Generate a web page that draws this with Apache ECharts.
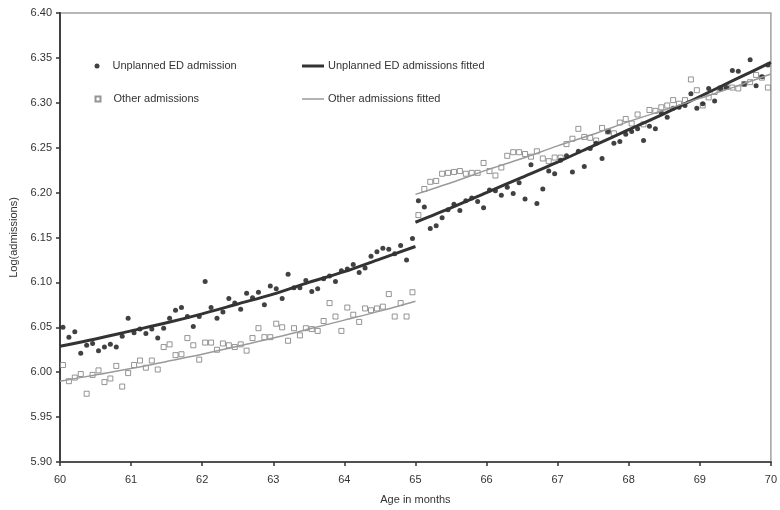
<!DOCTYPE html>
<html>
<head>
<meta charset="utf-8">
<script src="https://cdn.jsdelivr.net/npm/echarts@6/dist/echarts.min.js"></script>
<style>
  html, body { margin: 0; padding: 0; background: #fff; }
  #chart { width: 780px; height: 510px; }
</style>
</head>
<body>
<div id="chart"></div>
<script>
// Axis ticks
const xTicks = [60, 61, 62, 63, 64, 65, 66, 67, 68, 69, 70];
const yTicks = [5.90, 5.95, 6.00, 6.05, 6.10, 6.15, 6.20, 6.25, 6.30, 6.35, 6.40];

// Observations: 12 per month, centred in each twelfth of a month
const POINTS_PER_MONTH = 12;

// Log(admissions), unplanned ED admissions, ages 60 to 70 months
const unplannedED = [
  6.050, 6.039, 6.045, 6.021, 6.030, 6.032, 6.024, 6.028, 6.031, 6.028, 6.040, 6.060,
  6.044, 6.048, 6.043, 6.048, 6.038, 6.049, 6.060, 6.069, 6.072, 6.062, 6.051, 6.062,
  6.101, 6.072, 6.060, 6.067, 6.082, 6.077, 6.070, 6.088, 6.083, 6.089, 6.075, 6.096,
  6.093, 6.082, 6.109, 6.094, 6.094, 6.102, 6.090, 6.093, 6.104, 6.107, 6.101, 6.113,
  6.115, 6.120, 6.111, 6.116, 6.129, 6.134, 6.138, 6.137, 6.132, 6.141, 6.125, 6.149,
  6.191, 6.184, 6.160, 6.163, 6.172, 6.181, 6.187, 6.180, 6.191, 6.194, 6.190, 6.183,
  6.203, 6.202, 6.197, 6.206, 6.199, 6.211, 6.193, 6.231, 6.188, 6.204, 6.224, 6.221,
  6.236, 6.241, 6.223, 6.246, 6.229, 6.249, 6.255, 6.238, 6.268, 6.255, 6.257, 6.265,
  6.268, 6.271, 6.258, 6.274, 6.271, 6.289, 6.284, 6.294, 6.295, 6.297, 6.310, 6.294,
  6.299, 6.316, 6.302, 6.316, 6.317, 6.336, 6.335, 6.321, 6.348, 6.319, 6.329, 6.342
];

// Log(admissions), other admissions
const otherAdm = [
  6.008, 5.990, 5.994, 5.998, 5.976, 5.997, 6.002, 5.989, 5.993, 6.007, 5.984, 5.999,
  6.008, 6.013, 6.005, 6.013, 6.003, 6.028, 6.031, 6.019, 6.020, 6.038, 6.030, 6.014,
  6.033, 6.033, 6.025, 6.032, 6.030, 6.028, 6.031, 6.024, 6.038, 6.049, 6.039, 6.039,
  6.054, 6.050, 6.035, 6.049, 6.041, 6.049, 6.048, 6.046, 6.057, 6.077, 6.062, 6.046,
  6.072, 6.064, 6.056, 6.071, 6.069, 6.071, 6.073, 6.087, 6.062, 6.077, 6.062, 6.089,
  6.175, 6.204, 6.212, 6.213, 6.221, 6.222, 6.223, 6.224, 6.221, 6.222, 6.222, 6.233,
  6.224, 6.219, 6.228, 6.241, 6.245, 6.245, 6.243, 6.240, 6.246, 6.238, 6.235, 6.239,
  6.239, 6.254, 6.260, 6.271, 6.262, 6.261, 6.258, 6.272, 6.268, 6.266, 6.278, 6.282,
  6.277, 6.287, 6.276, 6.292, 6.291, 6.295, 6.297, 6.303, 6.299, 6.303, 6.326, 6.314,
  6.297, 6.306, 6.312, 6.316, 6.318, 6.317, 6.316, 6.321, 6.323, 6.331, 6.328, 6.317
];

// Fitted curves, sampled every half month on each side of 65 months
const fitAgesBefore = [60, 60.5, 61, 61.5, 62, 62.5, 63, 63.5, 64, 64.5, 65];
const fitAgesAfter  = [65, 65.5, 66, 66.5, 67, 67.5, 68, 68.5, 69, 69.5, 70];
const unplannedFitBefore = [6.029, 6.037, 6.046, 6.055, 6.065, 6.076, 6.087, 6.100, 6.112, 6.126, 6.140];
const unplannedFitAfter  = [6.167, 6.183, 6.200, 6.217, 6.234, 6.252, 6.270, 6.288, 6.307, 6.326, 6.345];
const otherFitBefore     = [5.990, 5.997, 6.004, 6.012, 6.020, 6.029, 6.038, 6.048, 6.058, 6.068, 6.079];
const otherFitAfter      = [6.198, 6.211, 6.225, 6.238, 6.252, 6.265, 6.279, 6.292, 6.305, 6.318, 6.332];

const NAME_ED = 'Unplanned ED admission';
const NAME_OTHER = 'Other admissions';
const NAME_ED_FIT = 'Unplanned ED admissions fitted';
const NAME_OTHER_FIT = 'Other admissions fitted';

const ageOf = i => xTicks[0] + (i + 0.5) / POINTS_PER_MONTH;
const pairs = (values) => values.map((v, i) => [ageOf(i), v]);
const zipXY = (xs, ys) => xs.map((x, i) => [x, ys[i]]);

const FONT = "'Liberation Sans', Arial, sans-serif";
const TEXT = '#333';

// One legend block per entry so each key can have its own icon shape
function legendEntry(name, left, top, icon, w, h, textGap) {
  return {
    data: [name], left, top, padding: 0,
    icon, itemWidth: w, itemHeight: h,
    textStyle: { fontSize: 11, color: TEXT, fontFamily: FONT, lineHeight: 14,
                 padding: [0, 0, 0, textGap] }
  };
}

function fitLine(name, data, color, width) {
  return {
    name, type: 'line', data,
    symbol: 'none', showSymbol: false, smooth: 0.3,
    lineStyle: { color, width },
    itemStyle: { color },
    z: 5, silent: true
  };
}

const option = {
  animation: false,
  backgroundColor: '#fff',
  grid: {
    left: 60, right: 7, top: 13, bottom: 45,
    show: true, borderColor: '#a0a0a0', borderWidth: 1.5, backgroundColor: 'transparent'
  },
  legend: [
    legendEntry(NAME_ED, 94.5, 59, 'circle', 5, 5, 8),
    legendEntry(NAME_OTHER, 94.5, 92, 'rect', 5, 5, 8),
    legendEntry(NAME_ED_FIT, 302, 59, 'rect', 22, 3, -1),
    legendEntry(NAME_OTHER_FIT, 302, 92, 'rect', 22, 1.5, -1)
  ],
  xAxis: {
    type: 'value',
    min: xTicks[0], max: xTicks[xTicks.length - 1], interval: 1,
    name: 'Age in months', nameLocation: 'middle', nameGap: 32,
    nameTextStyle: { fontSize: 11, color: TEXT, fontFamily: FONT },
    axisLine: { show: true, lineStyle: { color: '#505050', width: 2 } },
    axisTick: { show: true, inside: false, length: 4, lineStyle: { color: '#333', width: 1.5 } },
    axisLabel: { fontSize: 11, color: TEXT, fontFamily: FONT, margin: 12 },
    splitLine: { show: false }
  },
  yAxis: {
    type: 'value',
    min: yTicks[0], max: yTicks[yTicks.length - 1], interval: 0.05,
    name: 'Log(admissions)', nameLocation: 'middle', nameGap: 35, nameRotate: 90,
    nameTextStyle: { fontSize: 11, color: TEXT, fontFamily: FONT },
    axisLine: { show: true, lineStyle: { color: '#404040', width: 2 } },
    axisTick: { show: true, inside: false, length: 4, lineStyle: { color: '#333', width: 1.5 } },
    axisLabel: { fontSize: 11, color: TEXT, fontFamily: FONT, margin: 8,
                 formatter: v => v.toFixed(2) },
    splitLine: { show: false }
  },
  series: [
    {
      name: NAME_ED, type: 'scatter', data: pairs(unplannedED),
      symbol: 'circle', symbolSize: 5,
      itemStyle: { color: '#111' }, z: 3
    },
    {
      name: NAME_OTHER, type: 'scatter', data: pairs(otherAdm),
      symbol: 'rect', symbolSize: 5,
      itemStyle: { color: '#fff', borderColor: '#7a7a7a', borderWidth: 1 }, z: 2
    },
    fitLine(NAME_ED_FIT, zipXY(fitAgesBefore, unplannedFitBefore), '#333', 3),
    fitLine(NAME_ED_FIT, zipXY(fitAgesAfter, unplannedFitAfter), '#333', 3),
    fitLine(NAME_OTHER_FIT, zipXY(fitAgesBefore, otherFitBefore), '#9a9a9a', 1.5),
    fitLine(NAME_OTHER_FIT, zipXY(fitAgesAfter, otherFitAfter), '#9a9a9a', 1.5)
  ]
};

const chart = echarts.init(document.getElementById('chart'), null, { renderer: 'canvas' });
chart.setOption(option);
</script>
</body>
</html>
